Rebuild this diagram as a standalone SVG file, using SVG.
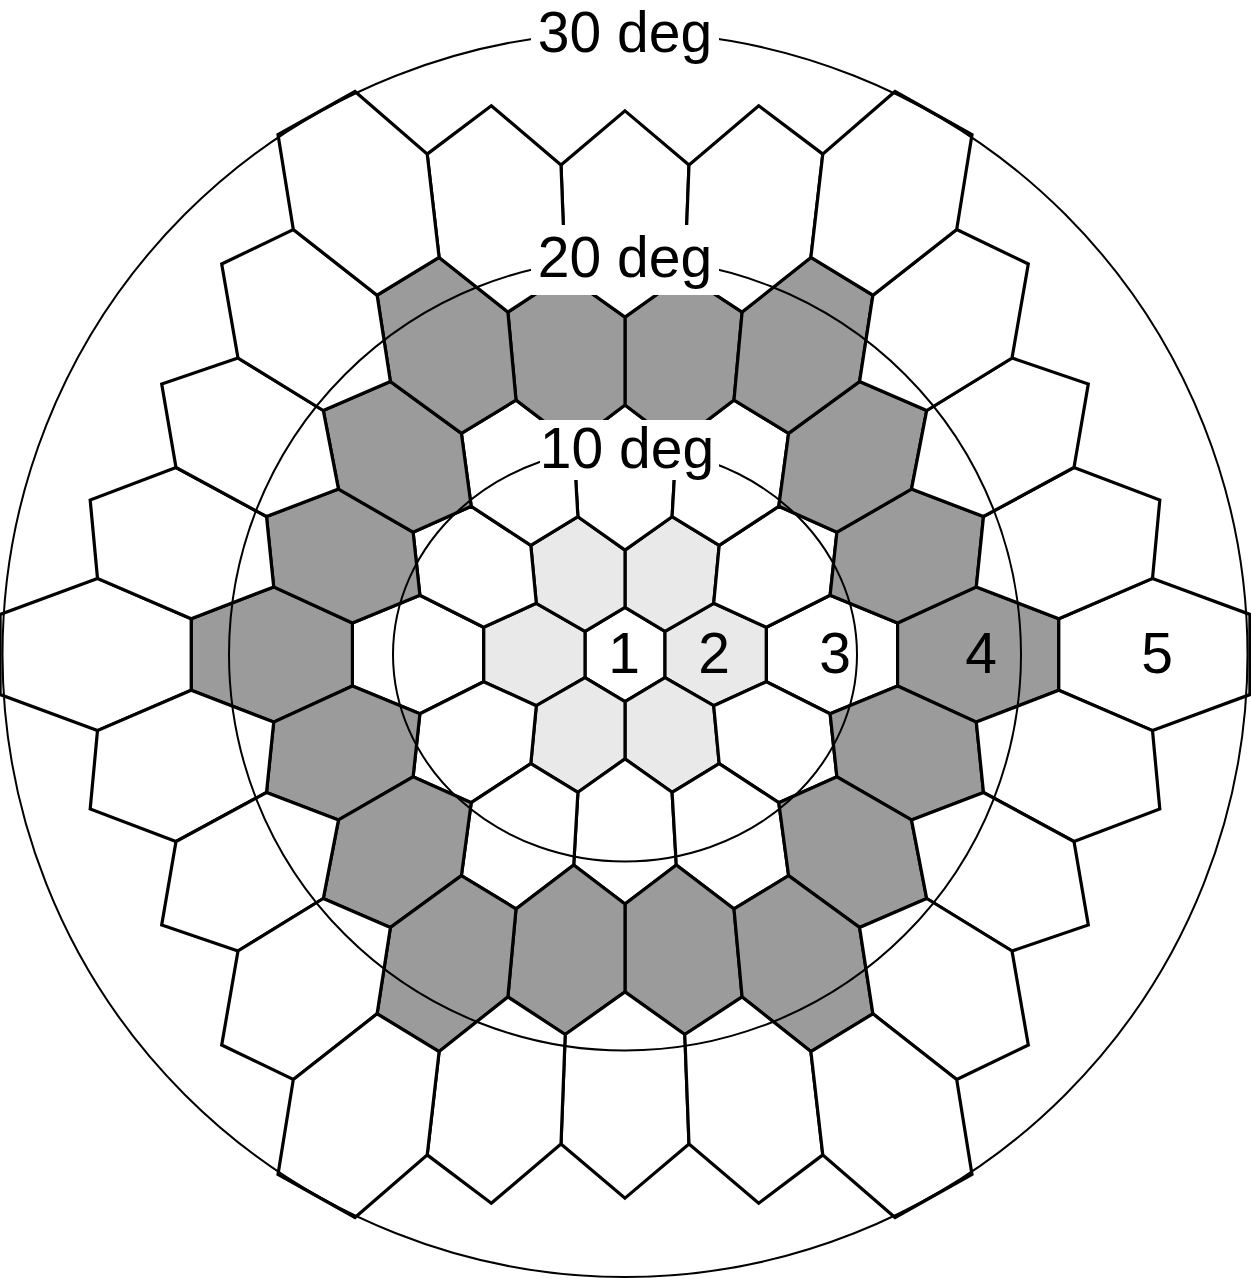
<svg xmlns="http://www.w3.org/2000/svg" width="1251" height="1280" viewBox="0 0 1251 1280">
<style>
.hx polygon{stroke:#000;stroke-width:3.2;stroke-linejoin:miter}
.w{fill:#fff}.l{fill:#e8e9e8}.d{fill:#9a9b9a}
.ring{fill:none;stroke:#000;stroke-width:2}
.mask{fill:#fff}
.lbl{font-family:"Liberation Sans",Arial,sans-serif;font-size:57px;fill:#000;text-anchor:middle}
</style>
<rect width="1251" height="1280" fill="#fff"/>
<g class="hx" id="hexes">
<!-- row 0 -->
<g id="h-r0-0"><polygon class="w" points="625,607.4 665,631.4 665,677.6 625,701.6 585,677.6 585,631.4"/></g>
<g id="h-r0-p1"><polygon class="l" points="713.7,603.3 766.4,627.3 766.4,681.7 713.7,705.7 665,677.6 665,631.4"/></g>
<g id="h-r0-p2"><polygon class="w" points="830.1,595.3 897.6,623 897.6,686 830.1,713.7 766.4,681.7 766.4,627.3"/></g>
<g id="h-r0-p3"><polygon class="d" points="976.3,586.9 1058.8,618.7 1058.8,690.3 976.3,722.1 897.6,686 897.6,623"/></g>
<g id="h-r0-p4"><polygon class="w" points="1152.5,578.4 1249.9,614.4 1249.9,694.6 1152.5,730.6 1058.8,690.3 1058.8,618.7"/></g>
<g id="h-r0-m1"><polygon class="l" points="536.3,603.3 585,631.4 585,677.6 536.3,705.7 483.6,681.7 483.6,627.3"/></g>
<g id="h-r0-m2"><polygon class="w" points="419.9,595.3 483.6,627.3 483.6,681.7 419.9,713.7 352.4,686 352.4,623"/></g>
<g id="h-r0-m3"><polygon class="d" points="273.7,586.9 352.4,623 352.4,686 273.7,722.1 191.2,690.3 191.2,618.7"/></g>
<g id="h-r0-m4"><polygon class="w" points="97.5,578.4 191.2,618.7 191.2,690.3 97.5,730.6 0.1,694.6 0.1,614.4"/></g>
<!-- row -1 -->
<g id="h-u1-a"><polygon class="l" points="672.1,516.7 719.2,545.4 713.7,603.3 665,631.4 625,607.4 625,550.1"/></g>
<g id="h-u1-b"><polygon class="l" points="577.9,516.7 625,550.1 625,607.4 585,631.4 536.3,603.3 530.8,545.4"/></g>
<g id="h-u1-c"><polygon class="w" points="778.8,506.3 836.9,532.2 830.1,595.3 766.4,627.3 713.7,603.3 719.2,545.4"/></g>
<g id="h-u1-d"><polygon class="w" points="471.2,506.3 530.8,545.4 536.3,603.3 483.6,627.3 419.9,595.3 413.1,532.2"/></g>
<g id="h-u1-e"><polygon class="d" points="911.5,489.1 983.5,516.5 976.3,586.9 897.6,623 830.1,595.3 836.9,532.2"/></g>
<g id="h-u1-f"><polygon class="d" points="338.5,489.1 413.1,532.2 419.9,595.3 352.4,623 273.7,586.9 266.5,516.5"/></g>
<g id="h-u1-g"><polygon class="w" points="1074,467.5 1159.8,500.1 1152.5,578.4 1058.8,618.7 976.3,586.9 983.5,516.5"/></g>
<g id="h-u1-h"><polygon class="w" points="176,467.5 266.5,516.5 273.7,586.9 191.2,618.7 97.5,578.4 90.2,500.1"/></g>
<!-- row -2 -->
<g id="h-u2-a"><polygon class="w" points="625,404.9 676.3,444 672.1,516.7 625,550.1 577.9,516.7 573.7,444"/></g>
<g id="h-u2-b"><polygon class="w" points="734,400.1 788.6,433.4 778.8,506.3 719.2,545.4 672.1,516.7 676.3,444"/></g>
<g id="h-u2-c"><polygon class="w" points="516,400.1 573.7,444 577.9,516.7 530.8,545.4 471.2,506.3 461.4,433.4"/></g>
<g id="h-u2-d"><polygon class="d" points="859.6,381.5 926.7,410.5 911.5,489.1 836.9,532.2 778.8,506.3 788.6,433.4"/></g>
<g id="h-u2-e"><polygon class="d" points="390.4,381.5 461.4,433.4 471.2,506.3 413.1,532.2 338.5,489.1 323.3,410.5"/></g>
<g id="h-u2-f"><polygon class="w" points="1012,358 1088.3,384 1074,467.5 983.5,516.5 911.5,489.1 926.7,410.5"/></g>
<g id="h-u2-g"><polygon class="w" points="238,358 323.3,410.5 338.5,489.1 266.5,516.5 176,467.5 161.7,384"/></g>
<!-- row -3 -->
<g id="h-u3-a"><polygon class="d" points="684.8,274.5 742.1,312.1 734,400.1 676.3,444 625,404.9 625,317.1"/></g>
<g id="h-u3-b"><polygon class="d" points="565.2,274.5 625,317.1 625,404.9 573.7,444 516,400.1 507.9,312.1"/></g>
<g id="h-u3-c"><polygon class="d" points="810.9,257.4 872.9,295.2 859.6,381.5 788.6,433.4 734,400.1 742.1,312.1"/></g>
<g id="h-u3-d"><polygon class="d" points="439.1,257.4 507.9,312.1 516,400.1 461.4,433.4 390.4,381.5 377.1,295.2"/></g>
<g id="h-u3-e"><polygon class="w" points="956.7,229.5 1028.3,264 1012,358 926.7,410.5 859.6,381.5 872.9,295.2"/></g>
<g id="h-u3-f"><polygon class="w" points="293.3,229.5 377.1,295.2 390.4,381.5 323.3,410.5 238,358 221.7,264"/></g>
<!-- row -4 -->
<g id="h-u4-a"><polygon class="w" points="625,110.9 689,165 684.8,274.5 625,317.1 565.2,274.5 561,165"/></g>
<g id="h-u4-b"><polygon class="w" points="758.7,105.7 822.8,154.1 810.9,257.4 742.1,312.1 684.8,274.5 689,165"/></g>
<g id="h-u4-c"><polygon class="w" points="491.3,105.7 561,165 565.2,274.5 507.9,312.1 439.1,257.4 427.2,154.1"/></g>
<g id="h-u4-d"><polygon class="w" points="895,91.5 972,134.5 956.7,229.5 872.9,295.2 810.9,257.4 822.8,154.1"/></g>
<g id="h-u4-e"><polygon class="w" points="355,91.5 427.2,154.1 439.1,257.4 377.1,295.2 293.3,229.5 278,134.5"/></g>
<!-- row 1 -->
<g id="h-d1-a"><polygon class="l" points="672.1,792.3 719.2,763.6 713.7,705.7 665,677.6 625,701.6 625,758.9"/></g>
<g id="h-d1-b"><polygon class="l" points="577.9,792.3 625,758.9 625,701.6 585,677.6 536.3,705.7 530.8,763.6"/></g>
<g id="h-d1-c"><polygon class="w" points="778.8,802.7 836.9,776.8 830.1,713.7 766.4,681.7 713.7,705.7 719.2,763.6"/></g>
<g id="h-d1-d"><polygon class="w" points="471.2,802.7 530.8,763.6 536.3,705.7 483.6,681.7 419.9,713.7 413.1,776.8"/></g>
<g id="h-d1-e"><polygon class="d" points="911.5,819.9 983.5,792.5 976.3,722.1 897.6,686 830.1,713.7 836.9,776.8"/></g>
<g id="h-d1-f"><polygon class="d" points="338.5,819.9 413.1,776.8 419.9,713.7 352.4,686 273.7,722.1 266.5,792.5"/></g>
<g id="h-d1-g"><polygon class="w" points="1074,841.5 1159.8,808.9 1152.5,730.6 1058.8,690.3 976.3,722.1 983.5,792.5"/></g>
<g id="h-d1-h"><polygon class="w" points="176,841.5 266.5,792.5 273.7,722.1 191.2,690.3 97.5,730.6 90.2,808.9"/></g>
<!-- row 2 -->
<g id="h-d2-a"><polygon class="w" points="625,904.1 676.3,865 672.1,792.3 625,758.9 577.9,792.3 573.7,865"/></g>
<g id="h-d2-b"><polygon class="w" points="734,908.9 788.6,875.6 778.8,802.7 719.2,763.6 672.1,792.3 676.3,865"/></g>
<g id="h-d2-c"><polygon class="w" points="516,908.9 573.7,865 577.9,792.3 530.8,763.6 471.2,802.7 461.4,875.6"/></g>
<g id="h-d2-d"><polygon class="d" points="859.6,927.5 926.7,898.5 911.5,819.9 836.9,776.8 778.8,802.7 788.6,875.6"/></g>
<g id="h-d2-e"><polygon class="d" points="390.4,927.5 461.4,875.6 471.2,802.7 413.1,776.8 338.5,819.9 323.3,898.5"/></g>
<g id="h-d2-f"><polygon class="w" points="1012,951 1088.3,925 1074,841.5 983.5,792.5 911.5,819.9 926.7,898.5"/></g>
<g id="h-d2-g"><polygon class="w" points="238,951 323.3,898.5 338.5,819.9 266.5,792.5 176,841.5 161.7,925"/></g>
<!-- row 3 -->
<g id="h-d3-a"><polygon class="d" points="684.8,1034.5 742.1,996.9 734,908.9 676.3,865 625,904.1 625,991.9"/></g>
<g id="h-d3-b"><polygon class="d" points="565.2,1034.5 625,991.9 625,904.1 573.7,865 516,908.9 507.9,996.9"/></g>
<g id="h-d3-c"><polygon class="d" points="810.9,1051.6 872.9,1013.8 859.6,927.5 788.6,875.6 734,908.9 742.1,996.9"/></g>
<g id="h-d3-d"><polygon class="d" points="439.1,1051.6 507.9,996.9 516,908.9 461.4,875.6 390.4,927.5 377.1,1013.8"/></g>
<g id="h-d3-e"><polygon class="w" points="956.7,1079.5 1028.3,1045 1012,951 926.7,898.5 859.6,927.5 872.9,1013.8"/></g>
<g id="h-d3-f"><polygon class="w" points="293.3,1079.5 377.1,1013.8 390.4,927.5 323.3,898.5 238,951 221.7,1045"/></g>
<!-- row 4 -->
<g id="h-d4-a"><polygon class="w" points="625,1198.1 689,1144 684.8,1034.5 625,991.9 565.2,1034.5 561,1144"/></g>
<g id="h-d4-b"><polygon class="w" points="758.7,1203.3 822.8,1154.9 810.9,1051.6 742.1,996.9 684.8,1034.5 689,1144"/></g>
<g id="h-d4-c"><polygon class="w" points="491.3,1203.3 561,1144 565.2,1034.5 507.9,996.9 439.1,1051.6 427.2,1154.9"/></g>
<g id="h-d4-d"><polygon class="w" points="895,1217.5 972,1174.5 956.7,1079.5 872.9,1013.8 810.9,1051.6 822.8,1154.9"/></g>
<g id="h-d4-e"><polygon class="w" points="355,1217.5 427.2,1154.9 439.1,1051.6 377.1,1013.8 293.3,1079.5 278,1174.5"/></g>
</g>
<g id="rings">
<circle class="ring" cx="625" cy="654.5" r="622.5"/>
<circle class="ring" cx="625" cy="654.5" r="396"/>
<ellipse class="ring" cx="625" cy="654.5" rx="232" ry="207"/>
</g>
<g id="labels">
<g id="lbl-30"><rect class="mask" x="531" y="0" width="188" height="66"/><text class="lbl" x="625" y="52">30 deg</text></g>
<g id="lbl-20"><rect class="mask" x="531" y="225" width="188" height="70"/><text class="lbl" x="625" y="277">20 deg</text></g>
<g id="lbl-10"><rect class="mask" x="540" y="420" width="179" height="60"/><text class="lbl" x="627" y="468">10 deg</text></g>
<text class="lbl" x="624" y="673">1</text>
<text class="lbl" x="714" y="673">2</text>
<text class="lbl" x="835" y="673">3</text>
<text class="lbl" x="981" y="673">4</text>
<text class="lbl" x="1157" y="673">5</text>
</g>
</svg>
